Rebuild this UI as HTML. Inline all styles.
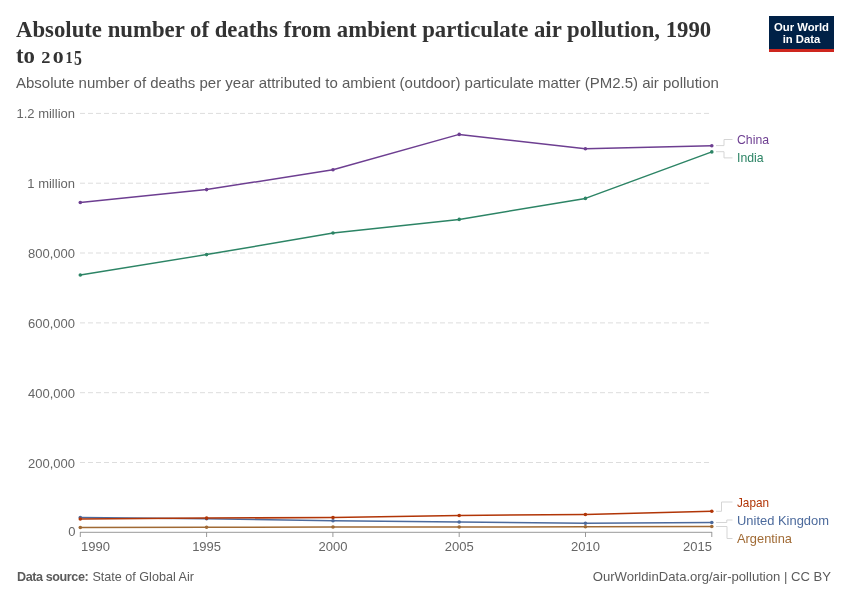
<!DOCTYPE html>
<html><head><meta charset="utf-8">
<style>
html,body{margin:0;padding:0;background:#fff;}
body{width:850px;height:600px;overflow:hidden;position:relative;}
svg{position:absolute;left:0;top:0;will-change:transform;}
</style></head>
<body>
<svg width="850" height="600" viewBox="0 0 850 600">
<g font-family="'Liberation Serif', serif" font-weight="bold" font-size="22.75" fill="#333">
<text x="16" y="36.5">Absolute number of deaths from ambient particulate air pollution, 1990</text>
<text x="16" y="62.5">to</text>
<text x="41.2" y="62.5" font-size="17" textLength="9.2" lengthAdjust="spacingAndGlyphs">2</text>
<text x="52.7" y="62.5" font-size="17" textLength="10.9" lengthAdjust="spacingAndGlyphs">0</text>
<text x="65.6" y="62.5" font-size="17" textLength="7.2" lengthAdjust="spacingAndGlyphs">1</text>
<text x="74.1" y="65.4" font-size="21" textLength="7.9" lengthAdjust="spacingAndGlyphs">5</text>
</g>
<text x="16" y="87.5" font-family="'Liberation Sans', sans-serif" font-size="15" fill="#5b5b5b">Absolute number of deaths per year attributed to ambient (outdoor) particulate matter (PM2.5) air pollution</text>

<!-- logo -->
<rect x="769" y="16" width="65" height="36" fill="#002147"/>
<rect x="769" y="49" width="65" height="3" fill="#ce261e"/>
<g font-family="'Liberation Sans', sans-serif" font-weight="bold" font-size="11.3" fill="#fff" text-anchor="middle">
<text x="801.5" y="30.7">Our World</text>
<text x="801.5" y="42.5">in Data</text>
</g>

<!-- grid -->
<g stroke="#ddd" stroke-width="1" stroke-dasharray="5,3">
<line x1="80" y1="113.4" x2="712" y2="113.4"/>
<line x1="80" y1="183.2" x2="712" y2="183.2"/>
<line x1="80" y1="253.0" x2="712" y2="253.0"/>
<line x1="80" y1="322.9" x2="712" y2="322.9"/>
<line x1="80" y1="392.7" x2="712" y2="392.7"/>
<line x1="80" y1="462.5" x2="712" y2="462.5"/>
</g>
<g font-family="'Liberation Sans', sans-serif" font-size="13" fill="#666" text-anchor="end">
<text x="75" y="118">1.2 million</text>
<text x="75" y="188">1 million</text>
<text x="75" y="258">800,000</text>
<text x="75" y="328">600,000</text>
<text x="75" y="398">400,000</text>
<text x="75" y="468">200,000</text>
<text x="75.5" y="536.4">0</text>
</g>
<!-- x axis -->
<g stroke="#999" stroke-width="1">
<line x1="80" y1="532.3" x2="712" y2="532.3"/>
<line x1="80.3" y1="532" x2="80.3" y2="537"/>
<line x1="206.6" y1="532" x2="206.6" y2="537"/>
<line x1="332.9" y1="532" x2="332.9" y2="537"/>
<line x1="459.2" y1="532" x2="459.2" y2="537"/>
<line x1="585.5" y1="532" x2="585.5" y2="537"/>
<line x1="711.8" y1="532" x2="711.8" y2="537"/>
</g>
<g font-family="'Liberation Sans', sans-serif" font-size="13" fill="#666" text-anchor="middle">
<text x="81" y="551" text-anchor="start">1990</text>
<text x="206.6" y="551">1995</text>
<text x="333" y="551">2000</text>
<text x="459.2" y="551">2005</text>
<text x="585.4" y="551">2010</text>
<text x="712" y="551" text-anchor="end">2015</text>
</g>

<!-- lines -->
<g fill="none" stroke-width="1.5" stroke-linejoin="round">
<polyline stroke="#A06A34" points="80.3,527.5 206.6,527.3 333,527 459.2,527 585.4,526.8 711.8,526.5"/>
<polyline stroke="#4C6A9C" points="80.3,517.6 206.6,518.8 333,520.7 459.2,522 585.4,523.2 711.8,522.5"/>
<polyline stroke="#B13507" points="80.3,519 206.6,518.1 333,517.5 459.2,515.5 585.4,514.5 711.8,511.3"/>
<polyline stroke="#2C8465" points="80.3,275 206.6,254.6 333,233 459.2,219.4 585.4,198.4 711.8,151.9"/>
<polyline stroke="#6D3E91" points="80.3,202.5 206.6,189.6 333,169.7 459.2,134.4 585.4,148.7 711.8,145.7"/>
</g>
<g><circle cx="80.3" cy="527.5" r="1.8" fill="#A06A34"/><circle cx="206.6" cy="527.3" r="1.8" fill="#A06A34"/><circle cx="333" cy="527" r="1.8" fill="#A06A34"/><circle cx="459.2" cy="527" r="1.8" fill="#A06A34"/><circle cx="585.4" cy="526.8" r="1.8" fill="#A06A34"/><circle cx="711.8" cy="526.5" r="1.8" fill="#A06A34"/><circle cx="80.3" cy="517.6" r="1.8" fill="#4C6A9C"/><circle cx="206.6" cy="518.8" r="1.8" fill="#4C6A9C"/><circle cx="333" cy="520.7" r="1.8" fill="#4C6A9C"/><circle cx="459.2" cy="522" r="1.8" fill="#4C6A9C"/><circle cx="585.4" cy="523.2" r="1.8" fill="#4C6A9C"/><circle cx="711.8" cy="522.5" r="1.8" fill="#4C6A9C"/><circle cx="80.3" cy="519" r="1.8" fill="#B13507"/><circle cx="206.6" cy="518.1" r="1.8" fill="#B13507"/><circle cx="333" cy="517.5" r="1.8" fill="#B13507"/><circle cx="459.2" cy="515.5" r="1.8" fill="#B13507"/><circle cx="585.4" cy="514.5" r="1.8" fill="#B13507"/><circle cx="711.8" cy="511.3" r="1.8" fill="#B13507"/><circle cx="80.3" cy="275" r="1.8" fill="#2C8465"/><circle cx="206.6" cy="254.6" r="1.8" fill="#2C8465"/><circle cx="333" cy="233" r="1.8" fill="#2C8465"/><circle cx="459.2" cy="219.4" r="1.8" fill="#2C8465"/><circle cx="585.4" cy="198.4" r="1.8" fill="#2C8465"/><circle cx="711.8" cy="151.9" r="1.8" fill="#2C8465"/><circle cx="80.3" cy="202.5" r="1.8" fill="#6D3E91"/><circle cx="206.6" cy="189.6" r="1.8" fill="#6D3E91"/><circle cx="333" cy="169.7" r="1.8" fill="#6D3E91"/><circle cx="459.2" cy="134.4" r="1.8" fill="#6D3E91"/><circle cx="585.4" cy="148.7" r="1.8" fill="#6D3E91"/><circle cx="711.8" cy="145.7" r="1.8" fill="#6D3E91"/></g>

<!-- connectors -->
<g fill="none" stroke="#d5d5d5" stroke-width="1">
<polyline points="716,145.6 724,145.6 724,139.5 732.5,139.5"/>
<polyline points="716,151.7 724,151.7 724,157.9 732.5,157.9"/>
<polyline points="716,511.3 721.5,511.3 721.5,502 732.5,502"/>
<polyline points="716,522.5 726.8,522.5 726.8,520 732.5,520"/>
<polyline points="716,526.5 727,526.5 727,538.5 732.5,538.5"/>
</g>
<g font-family="'Liberation Sans', sans-serif" font-size="12.8">
<text x="737" y="144.3" fill="#6D3E91" textLength="32" lengthAdjust="spacingAndGlyphs">China</text>
<text x="737" y="162.3" fill="#2C8465" textLength="26.6" lengthAdjust="spacingAndGlyphs">India</text>
<text x="737" y="506.8" fill="#B13507" textLength="32" lengthAdjust="spacingAndGlyphs">Japan</text>
<text x="737" y="524.9" fill="#4C6A9C" textLength="92" lengthAdjust="spacingAndGlyphs">United Kingdom</text>
<text x="737" y="543.3" fill="#A06A34" textLength="55" lengthAdjust="spacingAndGlyphs">Argentina</text>
</g>

<!-- footer -->
<g font-family="'Liberation Sans', sans-serif" font-size="12.6" fill="#5b5b5b">
<text x="17" y="581"><tspan font-weight="bold" letter-spacing="-0.42">Data source:</tspan><tspan x="92.4">State of Global Air</tspan></text>
<text x="831" y="581" text-anchor="end" font-size="13.1">OurWorldinData.org/air-pollution | CC BY</text>
</g>
</svg>
</body></html>
